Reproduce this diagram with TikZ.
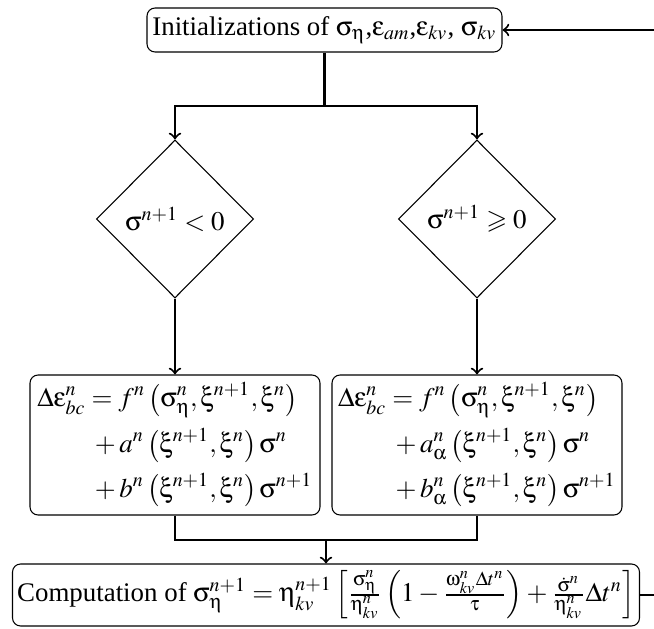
\documentclass[tikz,border=0pt]{standalone}
\usepackage{mathptmx}
\usepackage{amsmath}
\usepackage{amssymb}
\usepackage[Symbol]{upgreek}
\usepackage[no-math]{fontspec}
\setmainfont{Liberation Serif}
\def\uu{0.372pt}
\usetikzlibrary{shapes.geometric}
\tikzset{
  box/.style={draw, rounded corners=3pt, inner sep=0pt, line width=0.4pt, align=center},
  decision/.style={draw, diamond, inner sep=0pt, line width=0.4pt},
  conn/.style={line width=0.75pt},
}
\begin{document}
\begin{tikzpicture}[x=0.372pt, y=-0.372pt]
\useasboundingbox (0,0) rectangle (654,629);

\node[box, minimum width=355*\uu, minimum height=44*\uu] (init) at (324.5,30)
  {Initializations of $\upsigma_{\upeta}$,$\upepsilon_{am}$,$\upepsilon_{kv}$, $\upsigma_{kv}$};

\node[decision, minimum width=157*\uu, minimum height=158*\uu] (dL) at (175,219)
  {$\upsigma^{n+1} < 0$};
\node[decision, minimum width=157*\uu, minimum height=158*\uu] (dR) at (477,219)
  {$\upsigma^{n+1} \geqslant 0$};

\node[box, minimum width=290*\uu, minimum height=140*\uu] (bL) at (175,445)
  {$\begin{aligned}
  \Delta\upepsilon^n_{bc} &= f^n\left(\upsigma^n_{\upeta},\upxi^{n+1},\upxi^n\right)\\
  &\hspace{2pt}+ a^n\left(\upxi^{n+1},\upxi^n\right)\upsigma^n\\
  &\hspace{2pt}+ b^n\left(\upxi^{n+1},\upxi^n\right)\upsigma^{n+1}
  \end{aligned}$};
\node[box, minimum width=290*\uu, minimum height=140*\uu] (bR) at (477,445)
  {$\begin{aligned}
  \Delta\upepsilon^n_{bc} &= f^n\left(\upsigma^n_{\upeta},\upxi^{n+1},\upxi^n\right)\\
  &\hspace{2pt}+ a^n_{\upalpha}\left(\upxi^{n+1},\upxi^n\right)\upsigma^n\\
  &\hspace{2pt}+ b^n_{\upalpha}\left(\upxi^{n+1},\upxi^n\right)\upsigma^{n+1}
  \end{aligned}$};

\node[box, minimum width=627*\uu, minimum height=62*\uu] (bot) at (326,595)
  {Computation of $\upsigma^{n+1}_{\upeta} = \upeta^{n+1}_{kv}\left[\frac{\upsigma^n_{\upeta}}{\upeta^n_{kv}}\left(1-\frac{\upomega^n_{kv}\Delta t^n}{\uptau}\right)+\frac{\dot{\upsigma}^n}{\upeta^n_{kv}}\Delta t^n\right]$};

\coordinate (jt) at (324.5,106);
\coordinate (jb) at (326,540);
\coordinate (rb) at (654,595);
\coordinate (rt) at (654,30);

\draw[conn] (init) -- (jt);
\draw[conn,->] (jt) -| (dL);
\draw[conn,->] (jt) -| (dR);
\draw[conn,->] (dL) -- (bL);
\draw[conn,->] (dR) -- (bR);
\draw[conn] (bL) |- (jb);
\draw[conn] (bR) |- (jb);
\draw[conn,->] (jb) -- (bot);
\draw[conn] (bot) -- (rb);
\draw[conn,->] (rt) -- (init);
\end{tikzpicture}
\end{document}
